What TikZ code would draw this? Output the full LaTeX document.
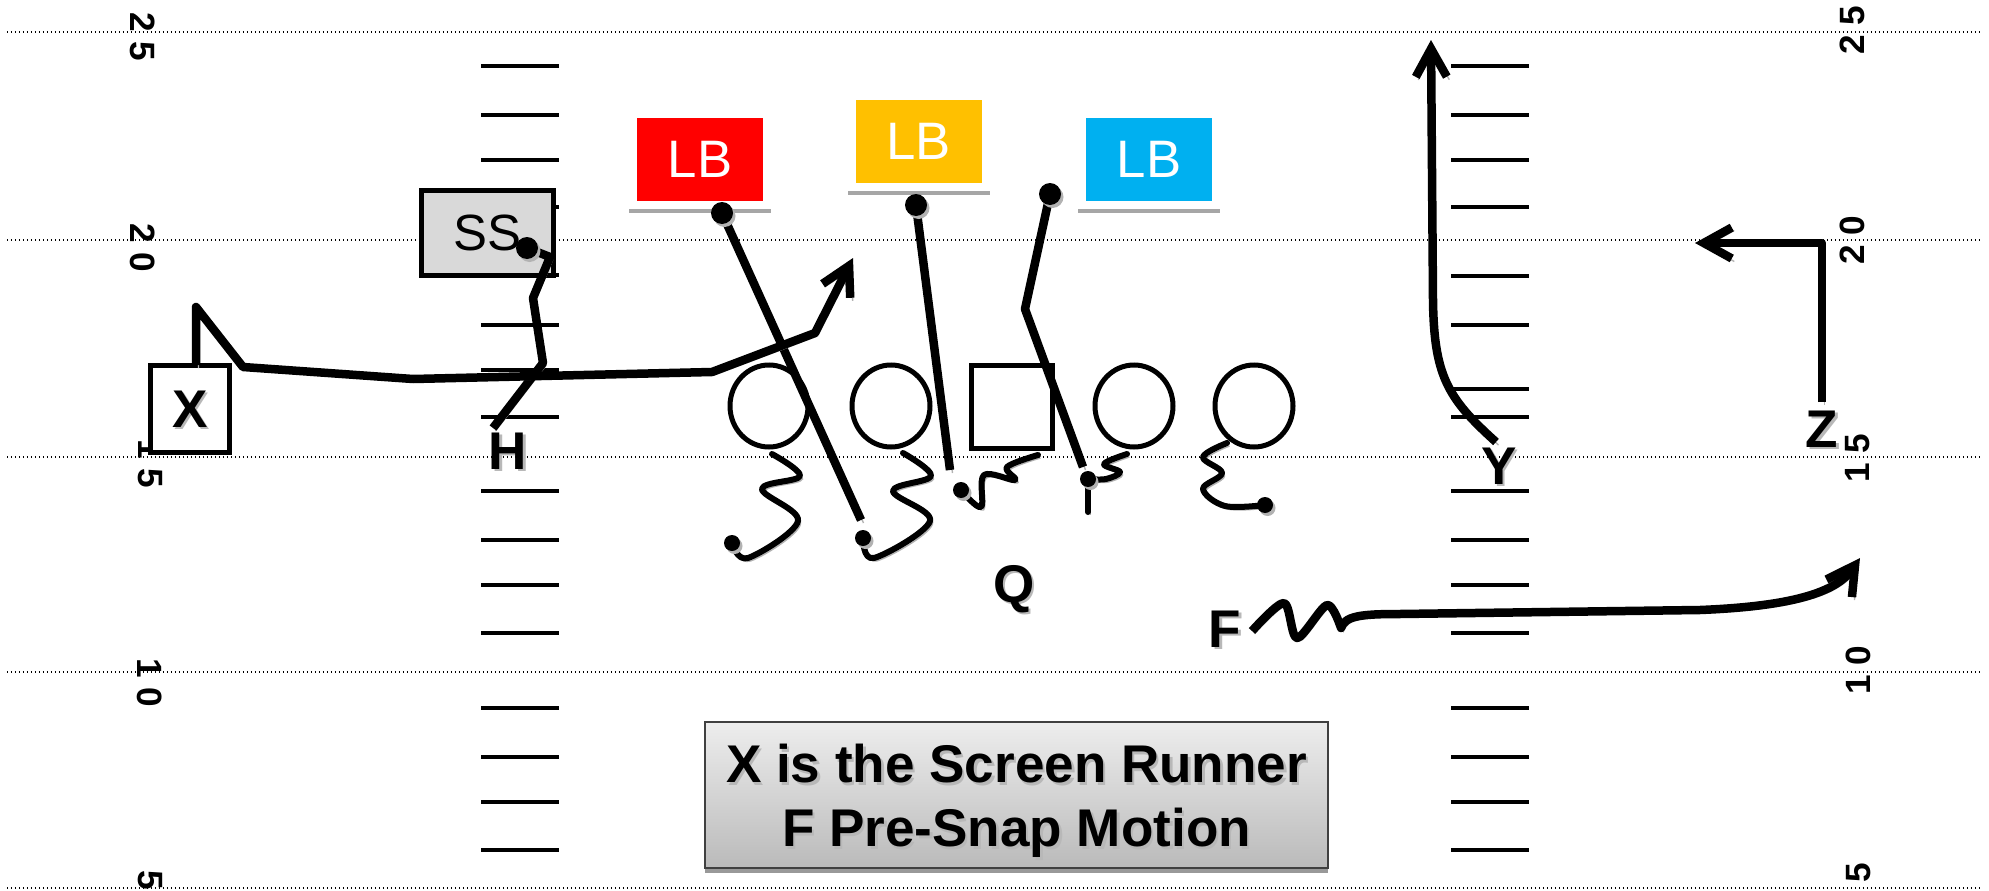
\documentclass[tikz,border=0pt]{standalone}
\usepackage{fontspec}
\setmainfont{Liberation Sans}
\usetikzlibrary{arrows.meta,shapes.geometric}

\definecolor{lbred}{HTML}{FF0000}
\definecolor{lbyellow}{HTML}{FFC000}
\definecolor{lbblue}{HTML}{00B0F0}
\definecolor{ssgray}{HTML}{D9D9D9}

% text with a soft gray drop shadow
\newcommand\shadowtxt[1]{\rlap{\smash{\kern0.25mm\raisebox{-0.25mm}{\textcolor{black!28}{#1}}}}#1}

\tikzset{
  yardline/.style={line width=0.15mm, dash pattern=on 0.15mm off 0.25mm},
  hashmark/.style={line width=0.38mm},
  yardnum/.style={font=\fontsize{10}{12}\selectfont\bfseries, inner sep=0},
  player/.style={draw, line width=0.5mm, fill=white, inner sep=0},
  lbbox/.style={fill=#1, text=white, minimum width=12.6mm, minimum height=8.3mm,
    inner sep=0, font=\fontsize{15}{18}\selectfont,
    preaction={fill=black!35, draw=black!35, line width=1.6mm,
               transform canvas={yshift=-0.4mm}},
    preaction={draw=white, line width=1.6mm}},
  lbl/.style={font=\fontsize{15.1}{18}\selectfont\bfseries, inner sep=0},
  route/.style={line width=0.85mm, line join=round,
    preaction={draw=black!30, transform canvas={shift={(0.25mm,-0.3mm)}}}},
  squig/.style={line width=0.6mm, line join=round, line cap=round,
    preaction={draw=black!30, transform canvas={shift={(0.25mm,-0.3mm)}}}},
  dot/.style={fill=black,
    preaction={fill=black!30, transform canvas={shift={(0.25mm,-0.3mm)}}}},
  capbox/.style={draw=black!75, line width=0.25mm, top color=black!7,
    bottom color=black!27, inner sep=0,
    preaction={fill=black!40, transform canvas={yshift=-0.45mm}}},
  captext/.style={align=center, inner sep=0,
    font=\fontsize{15.1}{18.2}\selectfont\bfseries},
  >={Straight Barb[length=2.8mm,width=3.1mm]}
}

\begin{document}
\begin{tikzpicture}[x=0.1mm, y=-0.1mm]
\useasboundingbox (0,0) rectangle (1989,891);

% yard lines
\foreach \y in {32,240,457,672,888}
  \draw[yardline] (7,\y) -- (1982,\y);

% hash marks
\foreach \y in {66,115,160,207,275,325,370,417,491,540,585,633,708,757,802,850}
  \draw[hashmark] (481,\y) -- (559,\y);
\foreach \y in {66,115,160,207,276,325,389,417,491,540,585,633,708,757,802,850}
  \draw[hashmark] (1451,\y) -- (1529,\y);

% yard numbers
\node[yardnum, rotate=-90] (nl25) at (143,37)  {2 5};
\node[yardnum, rotate=-90] (nl20) at (143,248) {2 0};
\node[yardnum, rotate=-90] (nl15) at (150,464) {1 5};
\node[yardnum, rotate=-90] (nl10) at (150,683) {1 0};
\node[yardnum, rotate=-90] (nl05) at (150,880) {5};
\node[yardnum, rotate=90] (nr25) at (1852,30)  {2 5};
\node[yardnum, rotate=90] (nr20) at (1852,240) {2 0};
\node[yardnum, rotate=90] (nr15) at (1858,458) {1 5};
\node[yardnum, rotate=90] (nr10) at (1858,670) {1 0};
\node[yardnum, rotate=90] (nr05) at (1859,873) {5};

% defense
\node[player, fill=ssgray, minimum width=13.2mm, minimum height=8.5mm,
      font=\fontsize{14.5}{17}\selectfont] (SS) at (487.5,233) {SS};
\node[lbbox=lbred]    (LBr) at (700,159.5)  {LB};
\node[lbbox=lbyellow] (LBy) at (918.5,141.5) {LB};
\node[lbbox=lbblue]   (LBb) at (1149,159.5) {LB};

% offense
\node[player, minimum width=7.9mm, minimum height=8.7mm, lbl] (X) at (190,409) {\shadowtxt{X}};
\node[player, ellipse, minimum width=7.8mm, minimum height=8.2mm] (T1) at (769,406) {};
\node[player, ellipse, minimum width=7.8mm, minimum height=8.2mm] (G1) at (891,406) {};
\node[player, minimum width=8.1mm, minimum height=8.3mm] (C) at (1012,407) {};
\node[player, ellipse, minimum width=7.8mm, minimum height=8.2mm] (G2) at (1134,406) {};
\node[player, ellipse, minimum width=7.8mm, minimum height=8.2mm] (T2) at (1254,406) {};

% line blocks
\draw[squig] plot[smooth, tension=0.6] coordinates
  {(772,454) (800,476) (762,489) (798,521) (748,558) (732,543)};
\draw[squig] plot[smooth, tension=0.6] coordinates
  {(903,453) (931,476) (893,491) (930,521) (874,558) (863,538)};
\draw[squig] plot[smooth, tension=0.6] coordinates
  {(1038,455) (1007,467) (1015,480) (984,475) (981,507) (961,490)};
\draw[squig] plot[smooth, tension=0.6] coordinates
  {(1127,454) (1104,464) (1120,472) (1106,479) (1088,479)};
\draw[squig] (1088,479) -- (1088,512);
\draw[squig] plot[smooth, tension=0.6] coordinates
  {(1227,443) (1203,457) (1222,473) (1203,489) (1225,506) (1265,505)};
\foreach \p in {(732,543),(863,538),(961,490),(1088,479),(1265,505)}
  \fill[dot] \p circle[radius=0.8mm];

% defenders' paths
\draw[route] (722,213) -- (861,520);
\draw[route] (916,205) -- (950,470);
\draw[route] (1050,194) -- (1025,309) -- (1083,467);
\draw[route] (527,248) -- (550,257) -- (533,298) -- (543,363) -- (493,428);
\foreach \p in {(722,213),(916,205),(1050,194),(527,248)}
  \fill[dot] \p circle[radius=1.1mm];

% receivers' routes
\draw[route, ->] (196,365) -- (196,307) -- (243,367) -- (413,379)
  -- (712,372) -- (815,333) -- (853,258);
\draw[route, ->] (1496,442) .. controls (1447,398) and (1434,375) .. (1433,300)
  -- (1431,40);
\draw[route, ->] (1822,402) -- (1822,243) -- (1695,243);
\draw[route, ->] plot[smooth, tension=0.5] coordinates
  {(1252,631) (1284,603) (1297,638) (1327,605) (1341,628)}
  .. controls (1345,616) and (1360,614) .. (1400,614) -- (1700,610)
  .. controls (1800,606) and (1838,590) .. (1860,558);

% labels
\node[lbl] (H) at (508,451)  {\shadowtxt{H}};
\node[lbl] (Q) at (1014,589) {\shadowtxt{Q}};
\node[lbl] (F) at (1225,629) {\shadowtxt{F}};
\node[lbl] (Y) at (1499,466) {\shadowtxt{Y}};
\node[lbl] (Z) at (1822,429) {\shadowtxt{Z}};

% caption
\node[capbox, minimum width=62.3mm, minimum height=14.6mm] (capbox) at (1016.5,795) {};
\node[captext] (captext) at (1016.5,801)
  {\shadowtxt{X is the Screen Runner}\\\shadowtxt{F Pre-Snap Motion}};
\end{tikzpicture}
\end{document}
